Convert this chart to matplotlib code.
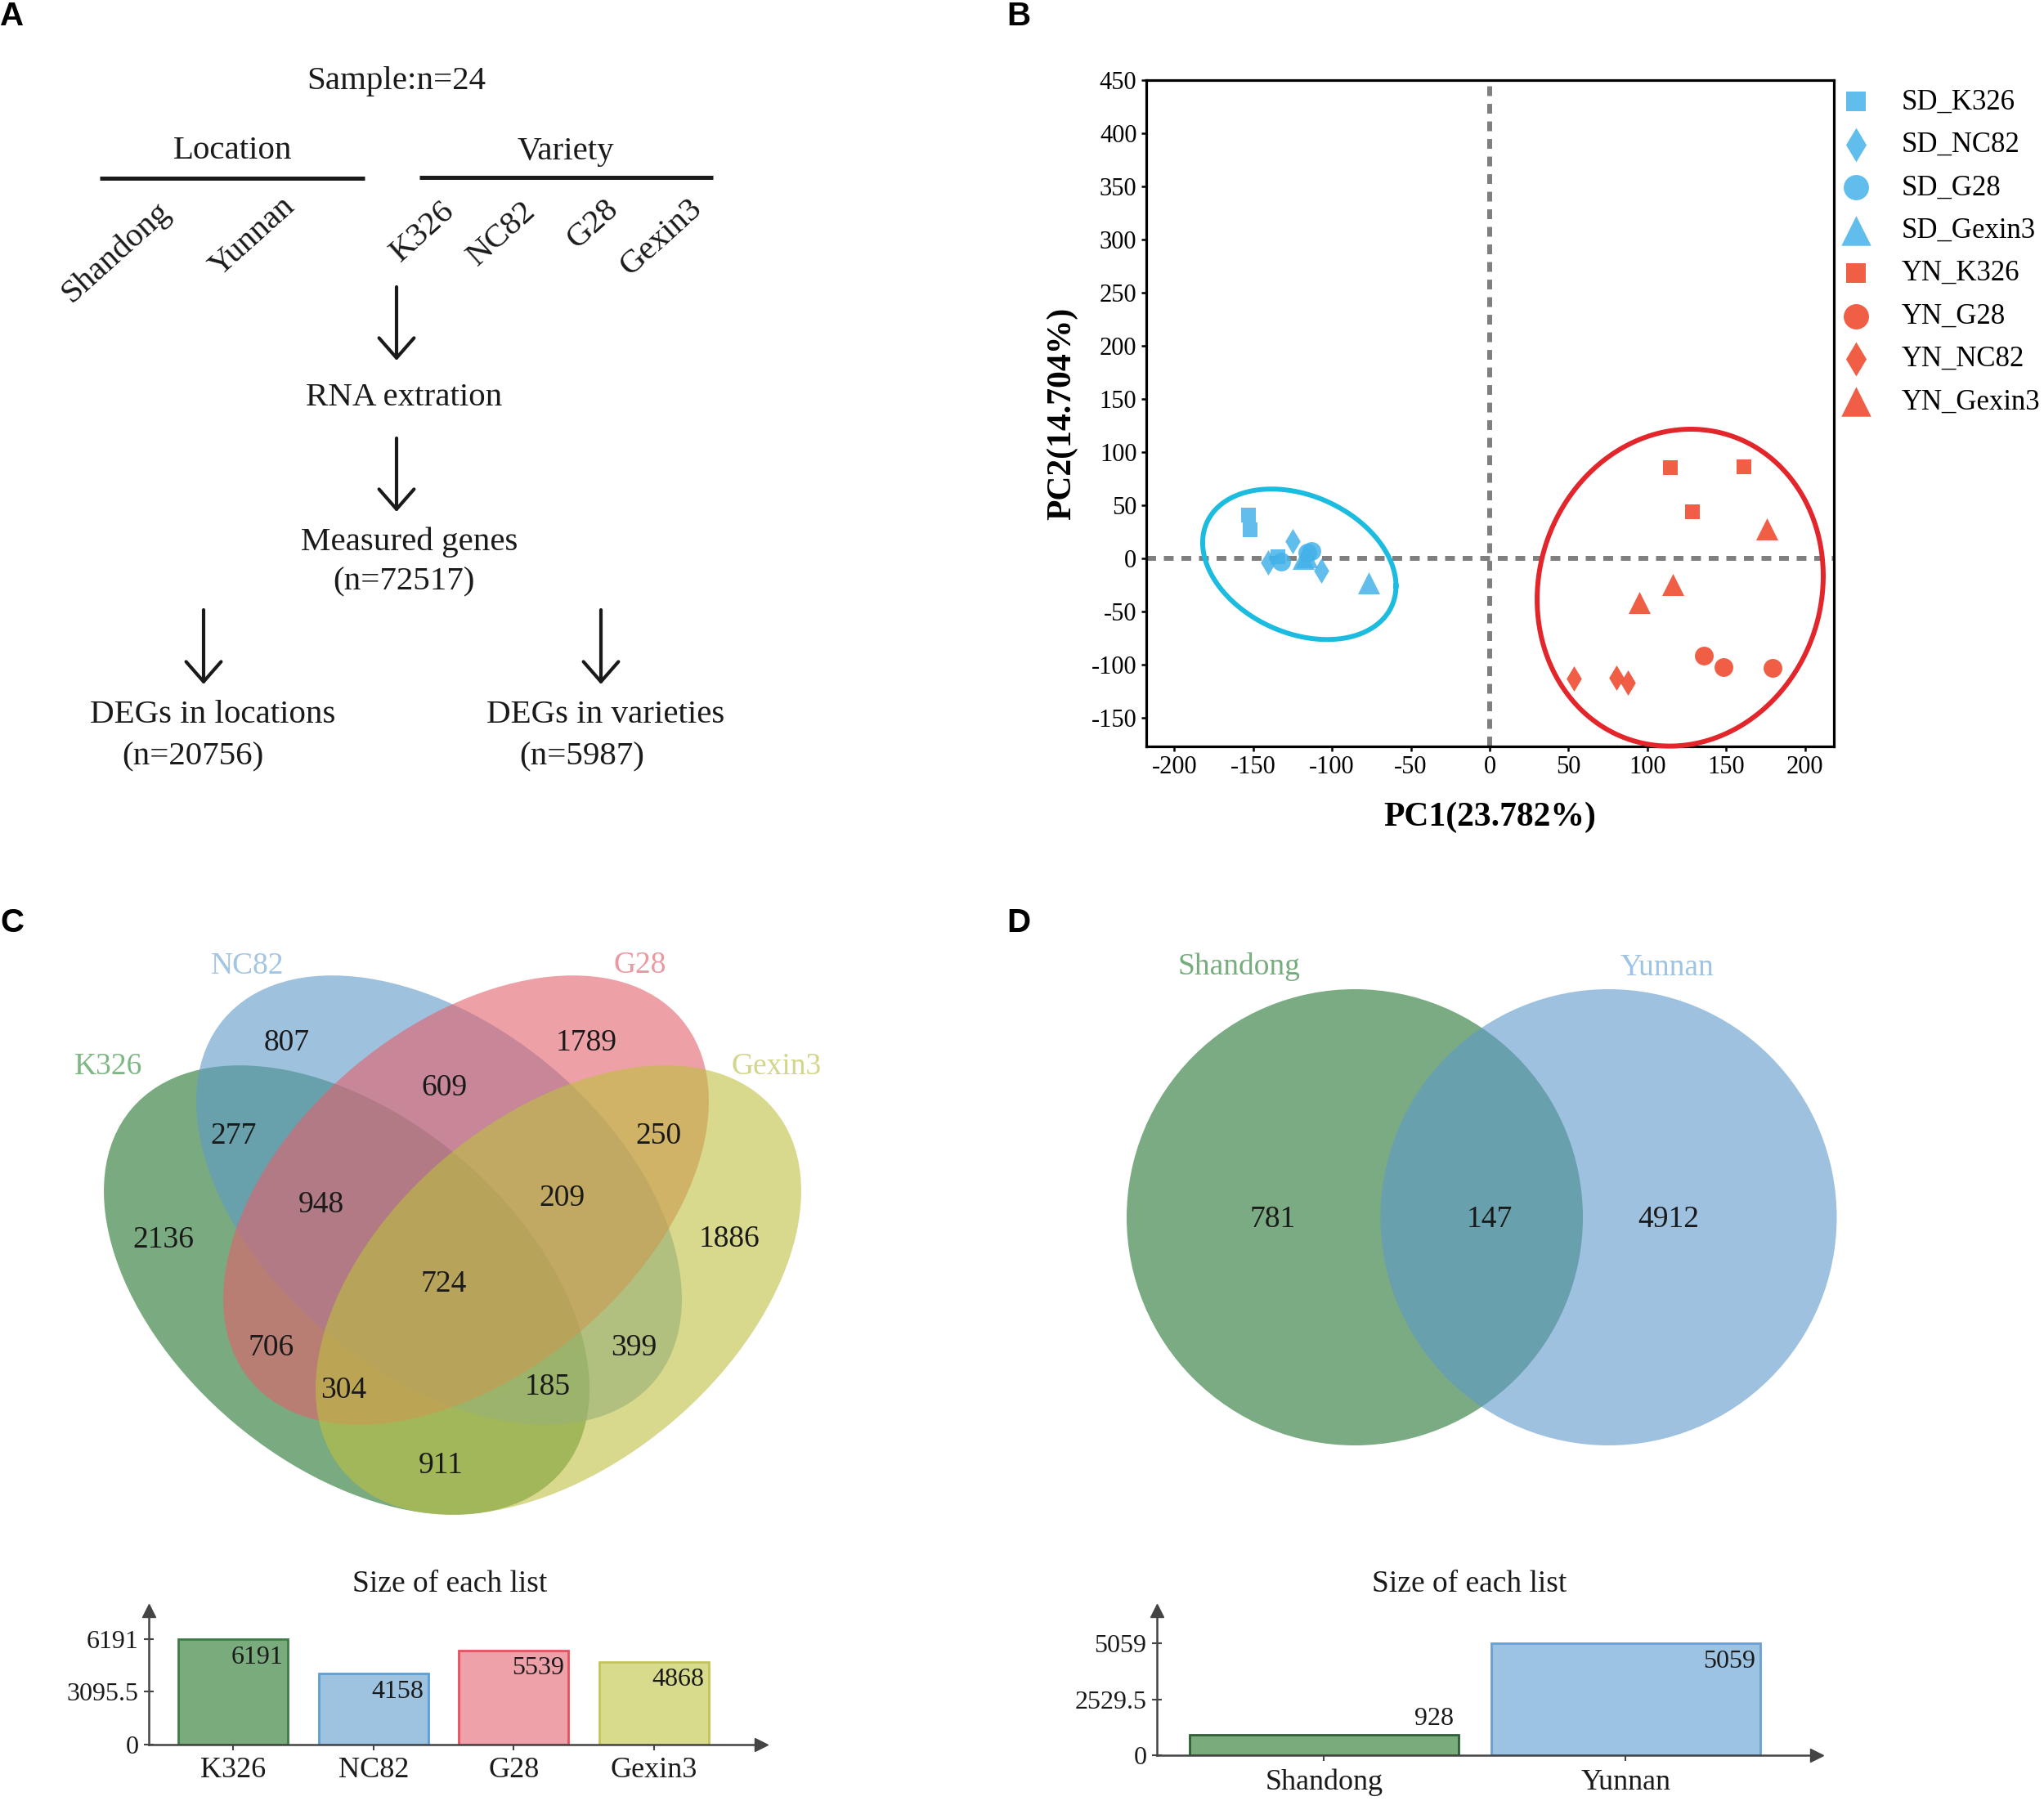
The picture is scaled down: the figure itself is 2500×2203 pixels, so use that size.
"""
Four-panel figure: sampling design (A), PCA of samples (B),
variety DEG Venn (C) and location DEG Venn (D), each Venn with its list sizes.
"""
import numpy as np
import matplotlib
matplotlib.use("Agg")
import matplotlib.pyplot as plt
from matplotlib.patches import Ellipse, Circle

plt.rcParams['font.family'] = ['Liberation Serif', 'DejaVu Serif']
plt.rcParams['axes.unicode_minus'] = False
SERIF = 'Liberation Serif'

# ---- data -------------------------------------------------------------------
# A: sampling design
n_samples = 24
locations = ["Shandong", "Yunnan"]
varieties = ["K326", "NC82", "G28", "Gexin3"]
n_measured = 72517
n_deg_locations = 20756
n_deg_varieties = 5987

# B: PCA scores, three replicates per group
pca_groups = ["SD_K326", "SD_NC82", "SD_G28", "SD_Gexin3",
              "YN_K326", "YN_G28", "YN_NC82", "YN_Gexin3"]
pc1_scores = [[-153.1, -151.7, -134.3], [-125.0, -140.4, -106.8],
              [-113.2, -132.3, -115.5], [-118.3, -76.7, -116.0],
              [114.7, 161.0, 128.7], [136.0, 148.4, 179.5],
              [53.2, 80.4, 87.5], [175.9, 116.1, 95.0]]
pc2_scores = [[40.8, 26.7, 1.8], [16.4, -4.1, -11.8],
              [6.9, -2.8, 5.5], [-0.3, -23.3, 1.5],
              [85.6, 86.4, 44.1], [-91.3, -102.0, -103.3],
              [-113.0, -112.6, -116.9], [27.9, -24.6, -41.3]]
pc1_var = 23.782
pc2_var = 14.704

# C: variety Venn, region key = membership in (K326, NC82, G28, Gexin3)
venn4_sets = ["K326", "NC82", "G28", "Gexin3"]
venn4_keys = ["1000", "0100", "0010", "0001", "1100", "0110", "0011", "1110",
              "0111", "1111", "1010", "0101", "1011", "1101", "1001"]
venn4_counts = [2136, 807, 1789, 1886, 277, 609, 250, 948,
                209, 724, 706, 399, 304, 185, 911]

# D: location Venn (only Shandong, both, only Yunnan)
venn2_sets = ["Shandong", "Yunnan"]
venn2_counts = [781, 147, 4912]

venn4_sizes = [sum(c for k, c in zip(venn4_keys, venn4_counts) if k[i] == "1")
               for i in range(4)]
venn2_sizes = [venn2_counts[0] + venn2_counts[1], venn2_counts[1] + venn2_counts[2]]

# ---- figure -----------------------------------------------------------------
W, H = 2500, 2203
fig = plt.figure(figsize=(W / 100, H / 100), dpi=100)
TXT = '#1a1a1a'


def px_axes(left, top, right, bottom):
    return fig.add_axes([left / W, 1 - bottom / H, (right - left) / W, (bottom - top) / H])


# overlay in pixel units for the diagram, Venns and panel letters
ov = fig.add_axes([0, 0, 1, 1])
ov.set_xlim(0, W)
ov.set_ylim(H, 0)
ov.axis('off')

for letter, (lx, ly) in zip("ABCD", [(15, 20), (1246, 20), (15, 1129), (1246, 1129)]):
    ov.text(lx, ly, letter, family='Liberation Sans', weight='bold', fontsize=29,
            ha='center', va='center', color='black')

# ---- A: design diagram ------------------------------------------------------
fsA = 29.5
ov.text(485, 100, f"Sample:n={n_samples}", fontsize=fsA, ha='center', va='center', color=TXT)
ov.text(285, 185, "Location", fontsize=fsA, ha='center', va='center', color=TXT)
ov.text(692, 185, "Variety", fontsize=fsA, ha='center', va='center', color=TXT)
ov.plot([122, 446], [218, 218], color=TXT, lw=3.6, solid_capstyle='butt')
ov.plot([513, 872], [217, 217], color=TXT, lw=3.6, solid_capstyle='butt')
for name, (tx, ty) in zip(locations + varieties,
                          [(142, 309), (309, 290), (517, 284), (614, 286), (725, 274), (809, 291)]):
    ov.text(tx, ty, name, fontsize=fsA, rotation=42, rotation_mode='anchor',
            ha='center', va='center', color=TXT)

arrow_kw = dict(arrowstyle='->,head_length=0.8,head_width=0.7', lw=3, color=TXT,
                mutation_scale=22, shrinkA=0, shrinkB=0)
for ax_x, y0, y1 in [(485, 351, 441), (485, 536, 626), (249, 746, 837), (735, 746, 837)]:
    ov.annotate('', xy=(ax_x, y1), xytext=(ax_x, y0), arrowprops=arrow_kw)

ov.text(494, 487, "RNA extration", fontsize=fsA, ha='center', va='center', color=TXT)
ov.text(501, 663, "Measured genes", fontsize=fsA, ha='center', va='center', color=TXT)
ov.text(494, 712, f"(n={n_measured})", fontsize=fsA, ha='center', va='center', color=TXT)
ov.text(260, 875, "DEGs in locations", fontsize=fsA, ha='center', va='center', color=TXT)
ov.text(236, 926, f"(n={n_deg_locations})", fontsize=fsA, ha='center', va='center', color=TXT)
ov.text(741, 875, "DEGs in varieties", fontsize=fsA, ha='center', va='center', color=TXT)
ov.text(712, 926, f"(n={n_deg_varieties})", fontsize=fsA, ha='center', va='center', color=TXT)

# ---- B: PCA -----------------------------------------------------------------
axB = px_axes(1401.5, 98, 2242.5, 913)
sd_col, yn_col = '#44b2e9', '#ee5035'
markers = {'K326': ('s', 169), 'NC82': ('d', 249), 'G28': ('o', 272), 'Gexin3': ('^', 378)}
axB.axhline(0, color='#7f7f7f', lw=4.3, ls=(0, (2, 1.6)), zorder=1)
axB.axvline(0, color='#7f7f7f', lw=4.3, ls=(0, (2, 1.6)), zorder=1)
for g, xs, ys in zip(pca_groups, pc1_scores, pc2_scores):
    loc, var = g.split('_')
    m, s = markers[var]
    axB.scatter(xs, ys, marker=m, s=s, color=sd_col if loc == 'SD' else yn_col,
                alpha=0.85 if loc == 'SD' else 0.92, linewidths=0, label=g, zorder=3)


def conf_ellipse(ax, cx, cy, half_x, half_y, coupling, color):
    # ellipse through its extents: half widths and x-y coupling term
    t = np.linspace(0, 2 * np.pi, 400)
    ux, uy = half_x, coupling / half_x
    vy = np.sqrt(half_y ** 2 - (coupling / half_x) ** 2)
    ax.plot(cx + ux * np.cos(t), cy + uy * np.cos(t) + vy * np.sin(t),
            color=color, lw=4.3, clip_on=False, zorder=4)


conf_ellipse(axB, -120.7, -5.6, 61.3, 70.8, -1250, '#1cbbe0')
conf_ellipse(axB, 120.8, -27.6, 90.7, 149.1, 1000, '#e3262b')

axB.set_xlim(-218, 218)
axB.set_ylim(-177, 450)
axB.set_xticks(np.arange(-200, 201, 50))
axB.set_yticks(np.arange(-150, 451, 50))
axB.tick_params(direction='out', length=4, width=1.8, labelsize=22, pad=4, colors='black',
                labelfontfamily=SERIF)
for sp in axB.spines.values():
    sp.set_linewidth(2.3)
axB.set_xlabel(f"PC1({pc1_var}%)", fontsize=30, fontweight='bold')
axB.set_ylabel(f"PC2({pc2_var}%)", fontsize=30, fontweight='bold')
axB.xaxis.set_label_coords(0.5, -0.083)
axB.yaxis.set_label_coords(-0.099, 0.5)
axB.legend(loc='upper left', bbox_to_anchor=(1.0, 1.0), borderaxespad=0, frameon=False,
           fontsize=25, markerscale=1.35, handlelength=1.0, handletextpad=1.1,
           borderpad=0.3, labelspacing=0.56, scatterpoints=1)

# ---- C: four-set Venn -------------------------------------------------------
venn4_faces = ['#21732b', '#5d99c8', '#e3616c', '#bec03f']
venn4_label_cols = ['#7db783', '#a3c5e2', '#eb98a1', '#d3d58a']
venn4_shapes = [((424, 1578), 40), ((537, 1468), 40), ((570, 1468), -40), ((683, 1578), -40)]
for (xy, ang), fc in zip(venn4_shapes, venn4_faces):
    ov.add_patch(Ellipse(xy, width=688, height=426, angle=ang, facecolor=fc,
                         edgecolor='none', alpha=0.6))
for name, col, (tx, ty) in zip(venn4_sets, venn4_label_cols,
                               [(133, 1305), (303, 1182), (783, 1181), (950, 1305)]):
    ov.text(tx, ty, name, fontsize=27, ha='center', va='center', color=col)
venn4_label_xy = {"1000": (200, 1514), "0100": (351, 1273), "0010": (717, 1273),
                  "0001": (892, 1513), "1100": (286, 1387), "0110": (543, 1328),
                  "0011": (805, 1387), "1110": (393, 1471), "0111": (687, 1463),
                  "1111": (543, 1568), "1010": (332, 1646), "0101": (775, 1646),
                  "1011": (420, 1698), "1101": (670, 1694), "1001": (539, 1790)}
for k, c in zip(venn4_keys, venn4_counts):
    tx, ty = venn4_label_xy[k]
    ov.text(tx, ty + 3, str(c), fontsize=27, ha='center', va='center', color=TXT)

# ---- D: two-set Venn --------------------------------------------------------
ov.add_patch(Circle((1657, 1489), 279, facecolor='#7bab82', edgecolor='none'))
ov.add_patch(Circle((1967.5, 1489), 279, facecolor='#5d99cb', edgecolor='none', alpha=0.6))
ov.text(1515, 1182, venn2_sets[0], fontsize=27, ha='center', va='center', color='#76ad7e')
ov.text(2039, 1184, venn2_sets[1], fontsize=27, ha='center', va='center', color='#9fc3e2')
for c, tx in zip(venn2_counts, [1557, 1822, 2041]):
    ov.text(tx, 1492, str(c), fontsize=27, ha='center', va='center', color=TXT)


# ---- list-size bar charts ---------------------------------------------------
def size_bars(ax, names, sizes, faces, edges, width, top_factor, xlim, xpad):
    x = np.arange(len(names))
    ax.bar(x, sizes, width=width, color=faces, edgecolor=edges, linewidth=2, zorder=2)
    vmax = max(sizes)
    ax.set_ylim(0, vmax * top_factor)
    ax.set_xlim(*xlim)
    ticks = [0, vmax / 2, vmax]
    ax.set_yticks(ticks)
    ax.set_yticklabels([f"{v:g}" for v in ticks])
    ax.set_xticks(x)
    ax.set_xticklabels(names)
    axis_col = '#444444'
    for s in ['top', 'right']:
        ax.spines[s].set_visible(False)
    for s in ['left', 'bottom']:
        ax.spines[s].set_color(axis_col)
        ax.spines[s].set_linewidth(1.8)
    ax.tick_params(axis='y', direction='inout', length=8, width=1.5, colors=axis_col,
                   labelcolor=TXT, labelsize=23, pad=5, labelfontfamily=SERIF)
    ax.tick_params(axis='x', direction='out', length=5, width=1.5, colors=axis_col,
                   labelcolor=TXT, labelsize=26, pad=xpad, labelfontfamily=SERIF)
    ax.plot(1, 0, '>', ms=12, color=axis_col, transform=ax.transAxes, clip_on=False)
    ax.plot(0, 1, '^', ms=12, color=axis_col, transform=ax.transAxes, clip_on=False)
    for xi, v in zip(x, sizes):
        inside = v > 0.3 * vmax
        ax.annotate(str(v), xy=(xi + width / 2, v), xytext=(-4, -16 if inside else 14),
                    textcoords='offset points', ha='right', va='center',
                    fontsize=23, color=TXT)
    ax.set_facecolor('none')


ov.text(550, 1938, "Size of each list", fontsize=27, ha='center', va='center', color=TXT)
axC2 = px_axes(182, 1970, 931, 2134)
size_bars(axC2, venn4_sets, venn4_sizes,
          ['#7aab7d', '#9dc3e0', '#eea1a8', '#d8da8c'],
          ['#3d7d45', '#5b9fd6', '#e4525f', '#c2c45a'],
          0.78, 1.271, (-0.6, 3.762), 6)

ov.text(1797, 1938, "Size of each list", fontsize=27, ha='center', va='center', color=TXT)
axD2 = px_axes(1415, 1970, 2222, 2147)
size_bars(axD2, venn2_sets, venn2_sizes,
          ['#7aab7d', '#9dc3e3'], ['#2f5f35', '#6a9fd2'],
          0.89, 1.292, (-0.554, 1.633), 7)

fig.savefig("out.png", dpi=100)
